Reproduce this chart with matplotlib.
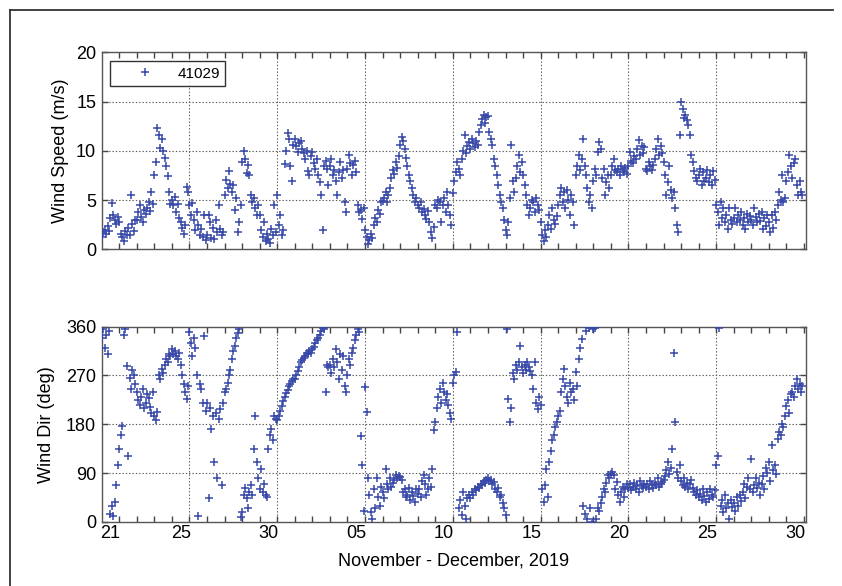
import numpy as np
import matplotlib
matplotlib.use("Agg")
import matplotlib.pyplot as plt
from matplotlib.lines import Line2D

# ---------------- data (2-hourly samples, x in "day" units: Nov 25 = 25, Dec 5 = 35) ----
start_day = 20.0
sample_step_hours = 2

wind_speed = [
    1.2, 1.8, 2.0, 1.6, 2.4, 1.9, 3.2, 4.7, 3.5, 3.0, 2.6, 3.3,
    2.8, 1.6, 1.2, 0.8, 1.9, 1.4, 2.2, 1.5, 5.5, 2.6, 1.9, 3.0,
    3.0, 3.8, 4.5, 3.3, 2.8, 4.0, 3.6, 4.2, 4.8, 3.9, 5.8, 4.6,
    7.5, 8.9, 12.3, 11.6, 10.3, 11.2, 10.0, 9.3, 8.5, 7.4, 5.8, 4.6,
    5.0, 4.5, 5.3, 3.8, 4.6, 3.2, 2.8, 2.2, 1.6, 2.5, 6.3, 5.8,
    4.5, 3.5, 4.7, 3.0, 2.0, 3.8, 2.5, 1.5, 2.1, 1.2, 3.5, 0.9,
    1.5, 3.5, 2.8, 1.1, 2.2, 1.0, 3.0, 1.8, 4.5, 2.1, 1.5, 1.8,
    5.5, 7.0, 6.2, 7.9, 6.6, 5.8, 6.5, 4.0, 5.2, 1.8, 2.8, 4.5,
    8.9, 10.0, 9.2, 7.7, 8.6, 7.5, 5.5, 4.8, 5.2, 4.2, 3.5, 4.5,
    3.5, 2.0, 1.2, 2.8, 0.8, 1.6, 1.0, 0.6, 2.1, 1.4, 4.5, 1.8,
    5.5, 2.5, 3.5, 1.5, 2.0, 8.7, 10.0, 11.8, 11.2, 8.5, 6.9, 10.6,
    11.2, 10.5, 9.9, 10.8, 11.0, 10.2, 9.8, 9.2, 10.0, 7.9, 7.5, 9.5,
    9.9, 8.8, 8.2, 9.2, 7.5, 6.8, 5.5, 2.0, 8.5, 9.0, 8.2, 6.5,
    8.5, 9.2, 7.5, 8.0, 6.9, 5.5, 7.8, 8.9, 7.2, 8.0, 4.8, 3.8,
    8.2, 9.6, 8.8, 7.5, 8.6, 9.0, 7.8, 4.5, 3.8, 4.0, 3.1, 4.2,
    2.0, 1.2, 0.5, 0.9, 1.6, 1.1, 2.5, 3.2, 2.8, 4.0, 3.6, 4.8,
    4.9, 5.2, 5.8, 4.8, 5.5, 6.2, 7.2, 8.0, 7.6, 8.9, 8.3, 9.5,
    10.6, 11.4, 11.0, 10.2, 9.3, 8.5, 7.5, 6.9, 6.2, 5.5, 4.8, 5.2,
    4.5, 4.2, 4.8, 3.8, 4.1, 3.5, 3.1, 3.9, 2.8, 1.8, 1.1, 2.3,
    4.5, 4.2, 5.0, 4.8, 2.8, 4.5, 5.2, 3.8, 5.8, 4.5, 3.5, 2.5,
    5.7, 6.9, 7.8, 8.9, 8.2, 7.5, 9.2, 10.0, 11.6, 9.8, 10.5, 10.9,
    10.2, 11.2, 10.8, 10.4, 11.0, 10.6, 11.9, 12.6, 13.2, 13.6, 12.8, 13.4,
    13.5, 11.9, 11.2, 10.6, 9.2, 8.5, 7.5, 6.5, 5.5, 4.8, 4.2, 3.0,
    2.0, 1.5, 2.8, 5.2, 10.6, 6.9, 5.8, 7.2, 8.5, 9.6, 7.8, 8.9,
    7.5, 6.5, 5.5, 4.5, 3.5, 4.2, 5.0, 4.8, 3.8, 5.2, 4.5, 4.0,
    2.8, 1.5, 0.8, 2.0, 1.2, 2.5, 3.5, 2.1, 4.2, 3.0, 2.6, 3.4,
    4.5, 5.5, 6.2, 4.8, 5.8, 4.2, 6.0, 5.0, 3.5, 5.5, 4.8, 2.5,
    7.5, 8.5, 9.6, 8.0, 9.2, 11.2, 8.5, 7.5, 6.2, 4.8, 5.5, 4.2,
    6.9, 8.2, 7.5, 9.9, 10.9, 10.2, 7.2, 8.2, 5.5, 6.8, 7.5, 6.2,
    7.5, 8.5, 9.2, 8.0, 7.8, 8.2, 7.5, 8.5, 8.0, 7.8, 8.3, 7.6,
    8.5, 9.9, 9.0, 8.8, 9.5, 9.2, 10.2, 11.1, 9.6, 10.5, 9.8, 10.4,
    8.2, 7.9, 8.9, 8.5, 8.0, 8.6, 9.2, 10.2, 11.2, 9.6, 10.5, 9.8,
    8.9, 7.5, 5.5, 6.8, 8.5, 6.0, 5.2, 5.8, 4.2, 2.5, 1.8, 11.6,
    15.0, 14.2, 13.3, 13.6, 13.1, 12.6, 11.6, 9.6, 8.9, 7.9, 7.2, 6.9,
    7.5, 8.2, 6.5, 7.8, 6.9, 7.2, 8.0, 6.8, 7.5, 6.5, 7.9, 7.0,
    4.5, 3.8, 2.5, 4.8, 3.2, 4.2, 2.8, 3.5, 2.1, 4.2, 3.0, 2.6,
    3.2, 4.2, 2.8, 3.5, 3.0, 3.8, 2.5, 3.2, 2.1, 3.6, 2.8, 3.4,
    3.0, 2.5, 4.2, 3.3, 2.8, 3.6, 2.9, 3.8, 2.1, 3.2, 2.4, 3.5,
    2.8, 1.8, 3.5, 2.2, 3.8, 3.0, 4.5, 5.8, 5.0, 7.5, 4.8, 5.2,
    6.9, 7.8, 9.6, 8.5, 7.2, 8.8, 9.2, 6.5, 5.5, 6.9, 5.8, 5.5,
]

wind_dir = [
    340, 355, 320, 345, 310, 352, 15, 30, 10, 37, 67, 104,
    135, 160, 177, 345, 355, 288, 122, 265, 245, 280, 270, 255,
    240, 225, 215, 230, 245, 210, 220, 235, 228, 212, 200, 240,
    195, 188, 202, 270, 263, 282, 275, 290, 300, 295, 310, 306,
    318, 310, 315, 305, 300, 312, 290, 270, 255, 240, 227, 250,
    350, 330, 306, 340, 320, 270, 10, 255, 245, 220, 343, 205,
    220, 43, 210, 171, 196, 110, 200, 80, 190, 208, 67, 220,
    239, 245, 257, 270, 280, 300, 315, 325, 340, 348, 355, 8,
    18, 50, 62, 43, 25, 55, 67, 49, 135, 195, 110, 80,
    60, 98, 55, 70, 49, 45, 135, 160, 171, 150, 195, 190,
    188, 195, 205, 213, 222, 230, 238, 244, 250, 255, 260, 263,
    263, 270, 278, 285, 294, 298, 303, 306, 312, 310, 316, 312,
    318, 322, 330, 335, 340, 345, 352, 358, 355, 240, 290, 285,
    290, 275, 300, 285, 318, 295, 263, 310, 280, 305, 250, 240,
    270, 300, 290, 312, 320, 335, 345, 355, 350, 159, 104, 20,
    248, 202, 80, 49, 18, 6, 60, 25, 80, 45, 30, 65,
    55, 43, 98, 70, 60, 80, 65, 72, 78, 86, 80, 84,
    82, 78, 55, 60, 45, 50, 62, 40, 55, 48, 37, 60,
    52, 60, 45, 75, 86, 70, 49, 60, 80, 65, 98, 170,
    184, 210, 230, 245, 220, 257, 240, 225, 235, 215, 200, 190,
    257, 270, 276, 350, 25, 40, 12, 55, 30, 6, 43, 50,
    43, 55, 50, 61, 58, 65, 62, 70, 68, 75, 72, 78,
    80, 75, 78, 70, 73, 60, 55, 62, 45, 50, 35, 25,
    12, 355, 227, 184, 210, 275, 263, 290, 280, 294, 324, 285,
    275, 290, 280, 294, 285, 278, 270, 245, 294, 220, 208, 230,
    215, 60, 37, 67, 98, 45, 110, 130, 150, 160, 175, 184,
    196, 205, 240, 263, 282, 250, 230, 220, 257, 240, 245, 225,
    276, 250, 300, 320, 337, 30, 15, 352, 5, 358, 25, 0,
    355, 358, 5, 25, 20, 35, 45, 60, 55, 72, 86, 80,
    88, 92, 86, 60, 73, 50, 37, 55, 65, 45, 60, 70,
    62, 70, 58, 65, 72, 60, 68, 55, 75, 66, 62, 70,
    64, 70, 60, 75, 67, 62, 72, 68, 80, 65, 70, 74,
    78, 85, 95, 110, 88, 100, 135, 312, 184, 92, 80, 105,
    75, 68, 80, 65, 72, 61, 70, 78, 62, 55, 50, 58,
    45, 52, 40, 61, 48, 37, 55, 42, 60, 50, 45, 58,
    104, 122, 358, 30, 40, 18, 49, 25, 35, 6, 40, 28,
    35, 20, 45, 30, 49, 38, 55, 70, 43, 65, 80, 60,
    116, 55, 68, 80, 62, 72, 50, 70, 85, 61, 100, 90,
    110, 75, 141, 95, 105, 88, 153, 165, 160, 180, 175, 196,
    214, 225, 200, 235, 240, 230, 251, 263, 245, 255, 240, 250,
]

station = "41029"
xtick_labels = ["21", "25", "30", "05", "10", "15", "20", "25", "30"]
xtick_days = [21, 25, 30, 35, 40, 45, 50, 55, 60]
grid_days = [25, 30, 35, 40, 45, 50, 55]
speed_ticks = [0, 5, 10, 15, 20]
dir_ticks = [0, 90, 180, 270, 360]

# ---------------- plotting ----------------
plt.rcParams['font.family'] = ['Liberation Sans', 'DejaVu Sans']

t_speed = start_day + np.arange(len(wind_speed)) * sample_step_hours / 24.0
t_dir = start_day + np.arange(len(wind_dir)) * sample_step_hours / 24.0

fig = plt.figure(figsize=(8.42, 5.86), dpi=100)
ax1 = fig.add_axes([0.1208, 0.5746, 0.8361, 0.3362])
ax2 = fig.add_axes([0.1208, 0.1096, 0.8361, 0.3329])

mcolor = '#3748a8'
spine_c = '#555555'
fs = 13
grid_kw = dict(color='0.35', lw=0.8, linestyle=(0, (1.2, 1.8)), zorder=0)

ax1.plot(t_speed, wind_speed, linestyle='none', marker='+', ms=6, mew=1.1,
         color=mcolor, label=station, zorder=3)
ax2.plot(t_dir, wind_dir, linestyle='none', marker='+', ms=6, mew=1.1,
         color=mcolor, zorder=3)

for ax, yt, ylim in ((ax1, speed_ticks, (0, 20)), (ax2, dir_ticks, (0, 360))):
    ax.set_xlim(20.0, 60.1)
    ax.set_ylim(*ylim)
    ax.set_yticks(yt)
    ax.set_xticks(np.arange(21, 61), minor=False)
    ax.set_xticklabels([])
    ax.tick_params(axis='x', which='both', direction='in', top=True, bottom=True,
                   length=4, width=1.0, color='#444444', labelbottom=False)
    ax.tick_params(axis='y', direction='in', left=True, right=True, length=4,
                   width=1.0, color='#444444', labelsize=fs, pad=4)
    for s in ax.spines.values():
        s.set_color(spine_c)
        s.set_linewidth(1.0)
    for g in grid_days:
        ax.axvline(g, **grid_kw)
    for y in yt[1:-1]:
        ax.axhline(y, **grid_kw)

# bottom tick labels (placed slightly left of the day ticks, as in the original)
sec = ax2.secondary_xaxis('bottom')
sec.set_xticks([d - 0.5 for d in xtick_days], xtick_labels)
sec.tick_params(length=0, labelsize=fs, pad=2)
sec.spines['bottom'].set_visible(False)

ax1.set_ylabel("Wind Speed (m/s)", fontsize=fs)
ax2.set_ylabel("Wind Dir (deg)", fontsize=fs)
ax1.yaxis.set_label_coords(-0.047, 0.5)
ax2.yaxis.set_label_coords(-0.066, 0.5)
ax2.set_xlabel("November - December, 2019", fontsize=fs)
ax2.xaxis.set_label_coords(0.5, -0.155)
sec.set_xlabel("")

leg = ax1.legend(loc='upper left', bbox_to_anchor=(0.0122, 0.954), borderaxespad=0,
                 frameon=True, fancybox=False, edgecolor='black', fontsize=11,
                 handlelength=3.9, handletextpad=0.15, borderpad=0.35,
                 markerscale=1.0)
leg.get_frame().set_linewidth(1.0)

# figure frame (top and left edges only)
fig.add_artist(Line2D([10/842, 833/842], [1 - 10/586, 1 - 10/586],
                      transform=fig.transFigure, color='#333333', lw=1.3))
fig.add_artist(Line2D([10/842, 10/842], [1 - 10/586, 0],
                      transform=fig.transFigure, color='#333333', lw=1.3))

fig.savefig("out.png", dpi=100)
